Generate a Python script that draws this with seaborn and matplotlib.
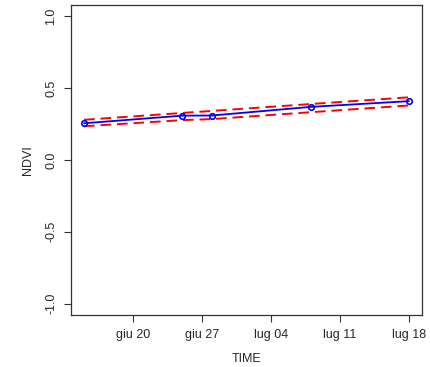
import matplotlib
matplotlib.use("Agg")
import matplotlib.pyplot as plt
import seaborn as sns
import pandas as pd
import matplotlib.dates as mdates

dates = ["2020-06-15", "2020-06-25", "2020-06-28", "2020-07-08", "2020-07-18"]
ndvi = [0.256, 0.309, 0.310, 0.370, 0.410]
upper = [0.280, 0.328, 0.342, 0.390, 0.437]
lower = [0.235, 0.278, 0.285, 0.333, 0.380]
tick_dates = ["2020-06-20", "2020-06-27", "2020-07-04", "2020-07-11", "2020-07-18"]
tick_labels = ["giu 20", "giu 27", "lug 04", "lug 11", "lug 18"]
y_ticks = [-1.0, -0.5, 0.0, 0.5, 1.0]

df = pd.DataFrame({"date": pd.to_datetime(dates), "NDVI": ndvi,
                   "upper": upper, "lower": lower})

sns.set_style("white")
plt.rcParams["font.family"] = ["Liberation Sans", "DejaVu Sans"]

fig = plt.figure(figsize=(4.3, 3.67), dpi=100)
ax = fig.add_axes([71/430, 1-315/367, (422-71)/430, (315-5)/367])

sns.lineplot(data=df, x="date", y="upper", ax=ax, color="red", linestyle=(0, (5.5, 3)), lw=1.4)
sns.lineplot(data=df, x="date", y="lower", ax=ax, color="red", linestyle=(0, (5.5, 3)), lw=1.4)
sns.lineplot(data=df, x="date", y="NDVI", ax=ax, color="blue", lw=1.3,
             marker="o", markersize=4, markerfacecolor="none",
             markeredgecolor="blue", markeredgewidth=1.2)

d0 = mdates.date2num(pd.Timestamp(dates[0]))
d1 = mdates.date2num(pd.Timestamp(dates[-1]))
pad = (d1 - d0) * 0.04
ax.set_xlim(d0 - pad, d1 + pad)
ax.set_ylim(-1.08, 1.08)

ax.set_xticks([mdates.date2num(pd.Timestamp(t)) for t in tick_dates])
ax.set_xticklabels(tick_labels, fontsize=9)
ax.set_yticks(y_ticks)
ax.set_yticklabels([f"{v:.1f}" for v in y_ticks], rotation=90, va="center", fontsize=9)
ax.tick_params(axis="both", direction="out", length=5, width=0.8, color="#333333",
               bottom=True, left=True, pad=5)
for s in ax.spines.values():
    s.set_visible(True)
    s.set_color("#333333")
    s.set_linewidth(0.9)

ax.set_xlabel("TIME", fontsize=9, labelpad=9)
ax.set_ylabel("NDVI", fontsize=9, labelpad=8)

fig.savefig("out.png", dpi=100)
